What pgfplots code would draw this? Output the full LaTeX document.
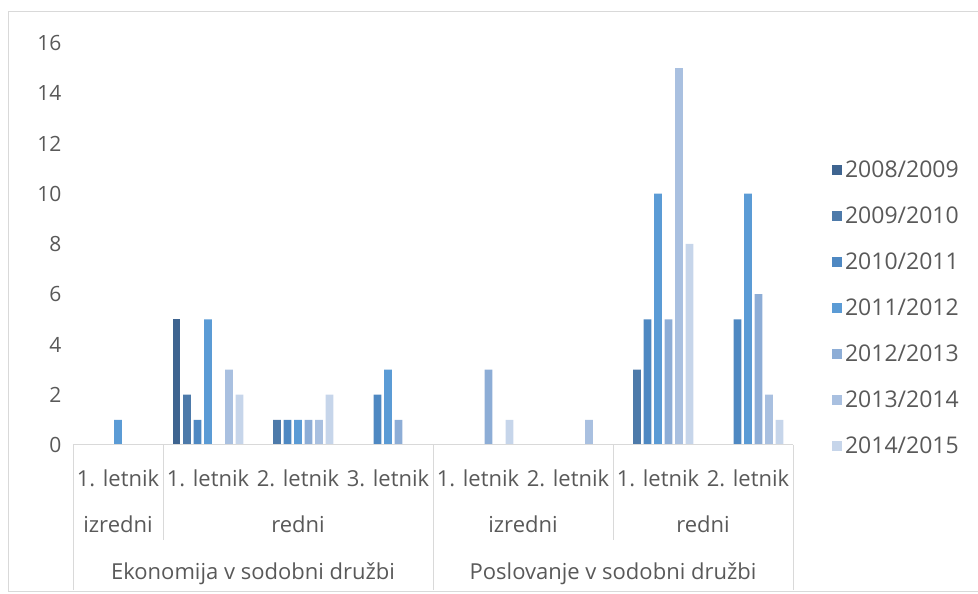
\documentclass[border=0pt]{standalone}
\usepackage{fontspec}
\setmainfont{Open Sans}
\usepackage{pgfplots}
\pgfplotsset{compat=1.18}
\definecolor{c0}{HTML}{3E6490}
\definecolor{c1}{HTML}{4D7AAA}
\definecolor{c2}{HTML}{4E88C2}
\definecolor{c3}{HTML}{5B9BD5}
\definecolor{c4}{HTML}{8DADD6}
\definecolor{c5}{HTML}{A9C0E0}
\definecolor{c6}{HTML}{C6D5EA}
\definecolor{txt}{HTML}{595959}
\definecolor{ln}{HTML}{D9D9D9}
\begin{document}
\begin{tikzpicture}[x=1pt,y=1pt]
\useasboundingbox (0,0) rectangle (978,594);
\draw[color=ln, line width=1pt] (8,2) rectangle (990,582);
\begin{axis}[at={(73pt,149pt)}, anchor=south west, scale only axis,
  width=720pt, height=402pt,
  xmin=-0.5, xmax=7.5, ymin=0, ymax=16, ytick={0,2,...,16},
  xtick={0,...,7},
  xticklabels={1. letnik,1. letnik,2. letnik,3. letnik,1. letnik,2. letnik,1. letnik,2. letnik},
  ybar=2.9pt, bar width=7.6pt,
  axis line style={draw=none}, tick style={draw=none},
  /pgf/number format/assume math mode=true,
  ticklabel style={font=\fontsize{21}{25}\selectfont, text=txt},
  xticklabel style={font=\fontsize{22}{26}\selectfont, anchor=base, yshift=-37pt},
  yticklabel style={xshift=-8pt},
  legend cell align=left,
  legend style={at={(1.054,0.712)}, anchor=north west, draw=none, fill=none,
    font=\fontsize{23}{27}\selectfont, text=txt, row sep=23.8pt, inner sep=0pt,
    nodes={inner xsep=3pt}},
  legend image code/.code={\fill[#1] (0pt,-5pt) rectangle (10pt,5pt);},
  clip=false]
\addplot[fill=c0, draw=none] coordinates {(1,5)};
\addplot[fill=c1, draw=none] coordinates {(1,2) (2,1) (6,3)};
\addplot[fill=c2, draw=none] coordinates {(1,1) (2,1) (3,2) (6,5) (7,5)};
\addplot[fill=c3, draw=none] coordinates {(0,1) (1,5) (2,1) (3,3) (6,10) (7,10)};
\addplot[fill=c4, draw=none] coordinates {(2,1) (3,1) (4,3) (6,5) (7,6)};
\addplot[fill=c5, draw=none] coordinates {(1,3) (2,1) (5,1) (6,15) (7,2)};
\addplot[fill=c6, draw=none] coordinates {(1,2) (2,2) (4,1) (6,8) (7,1)};
\legend{2008/2009,2009/2010,2010/2011,2011/2012,2012/2013,2013/2014,2014/2015}
\draw[ln, line width=1pt] (rel axis cs:0,0) -- (rel axis cs:1,0);
\end{axis}
\begin{scope}[every node/.style={font=\fontsize{22}{26}\selectfont, text=txt, anchor=base}]
\draw[ln, line width=1pt] (73,149) -- (73,4);
\draw[ln, line width=1pt] (163,149) -- (163,54);
\draw[ln, line width=1pt] (433,149) -- (433,4);
\draw[ln, line width=1pt] (613,149) -- (613,54);
\draw[ln, line width=1pt] (793,149) -- (793,4);
\node at (118,61) {izredni};
\node at (298,61) {redni};
\node at (523,61) {izredni};
\node at (703,61) {redni};
\node at (253,14) {Ekonomija v sodobni družbi};
\node at (613,14) {Poslovanje v sodobni družbi};
\end{scope}
\end{tikzpicture}
\end{document}
